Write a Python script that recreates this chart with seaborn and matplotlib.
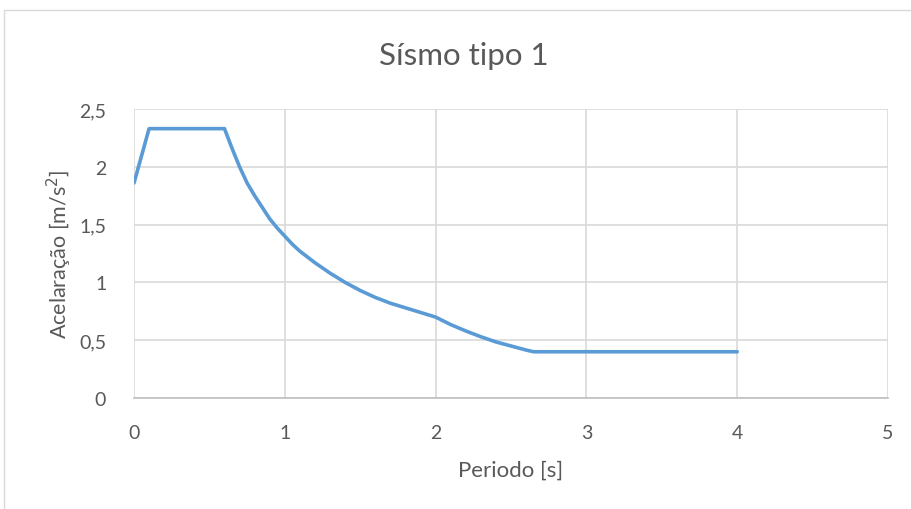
import matplotlib
matplotlib.use("Agg")
import matplotlib.pyplot as plt
import seaborn as sns
import pandas as pd
from matplotlib.patches import Rectangle

# Espectro de resposta
periodo = [0, 0.1, 0.2, 0.3, 0.4, 0.5, 0.6, 0.65, 0.7, 0.75, 0.8, 0.85, 0.9,
           0.95, 1.0, 1.05, 1.1, 1.15, 1.2, 1.3, 1.4, 1.5, 1.6, 1.7, 1.8, 1.9,
           2.0, 2.1, 2.2, 2.3, 2.4, 2.5, 2.6, 2.65, 3.0, 3.5, 4.0]
aceleracao = [1.86, 2.33, 2.33, 2.33, 2.33, 2.33, 2.33, 2.16, 2.00, 1.86, 1.75,
              1.65, 1.55, 1.47, 1.40, 1.33, 1.27, 1.22, 1.17, 1.08, 1.00, 0.93,
              0.87, 0.82, 0.78, 0.74, 0.70, 0.635, 0.58, 0.53, 0.485, 0.45,
              0.415, 0.40, 0.40, 0.40, 0.40]
x_ticks = [0, 1, 2, 3, 4, 5]
y_ticks = [0, 0.5, 1, 1.5, 2, 2.5]
y_labels = ["0", "0,5", "1", "1,5", "2", "2,5"]

df = pd.DataFrame({"periodo": periodo, "aceleracao": aceleracao})

sns.set_style("white")
plt.rcParams["font.family"] = ["Lato", "DejaVu Sans"]
txt = "#595959"

fig = plt.figure(figsize=(9.12, 5.10), dpi=100)
fig.patches.append(Rectangle((4 / 912, -0.1), 1.1, 1 - 11 / 510 + 0.1,
                             transform=fig.transFigure, fill=False,
                             edgecolor="#d9d9d9", linewidth=1))
ax = fig.add_axes([134 / 912, 1 - 399 / 510, 754 / 912, 289 / 510])

sns.lineplot(data=df, x="periodo", y="aceleracao", sort=False, ax=ax,
             color="#5b9bd5", linewidth=2.6)

ax.set_xlim(0, 5)
ax.set_ylim(0, 2.5)
ax.set_xticks(x_ticks)
ax.set_xticklabels([str(t) for t in x_ticks])
ax.set_yticks(y_ticks)
ax.set_yticklabels(y_labels)
ax.grid(True, color="#d9d9d9", linewidth=1.2)
for s in ["top", "right", "left"]:
    ax.spines[s].set_visible(False)
ax.spines["bottom"].set_color("#bfbfbf")
ax.spines["bottom"].set_linewidth(1.2)
ax.tick_params(axis="both", length=0, labelsize=14, colors=txt)
ax.tick_params(axis="x", pad=19)
ax.tick_params(axis="y", pad=20)

ax.set_xlabel("Periodo [s]", fontsize=16, color=txt, labelpad=13)
ax.set_ylabel("Acelaração [m/s$^2$]", fontsize=15.5, color=txt, labelpad=4)
fig.text(464 / 912, 1 - 56 / 510, "Sísmo tipo 1",
         ha="center", va="center", fontsize=22.5, color=txt)

fig.savefig("out.png", dpi=100)
